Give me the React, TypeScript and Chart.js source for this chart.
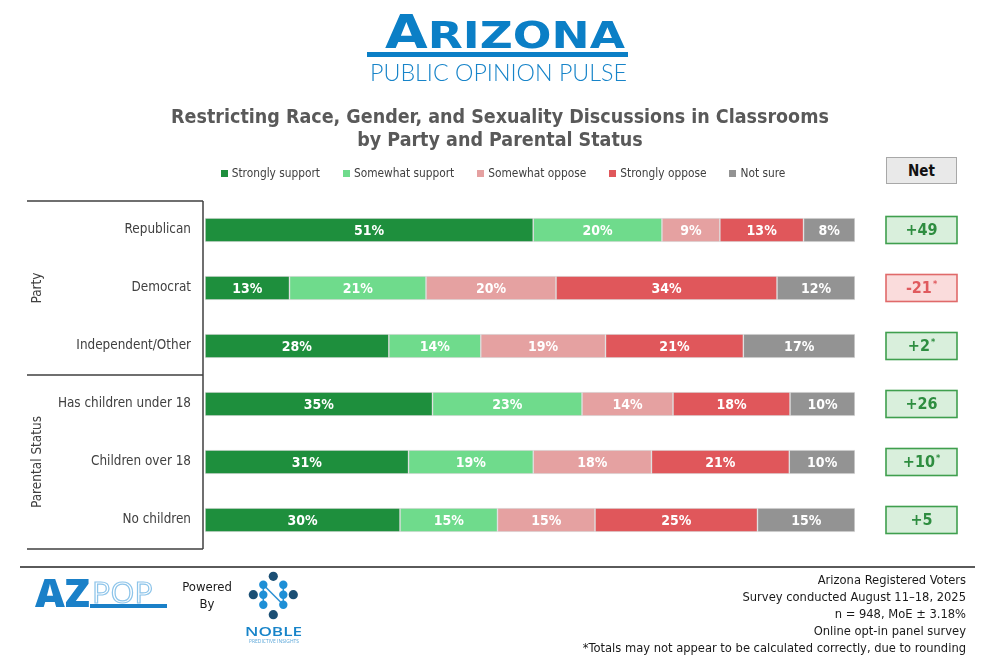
import React, { useEffect, useRef } from "react";
import { Chart, registerables } from "chart.js";

Chart.register(...registerables);

const categories = [
  "Republican",
  "Democrat",
  "Independent/Other",
  "Has children under 18",
  "Children over 18",
  "No children",
];
const seriesNames = ["Strongly support", "Somewhat support", "Somewhat oppose", "Strongly oppose", "Not sure"];
const stronglySupport = [51, 13, 28, 35, 31, 30];
const somewhatSupport = [20, 21, 14, 23, 19, 15];
const somewhatOppose = [9, 20, 19, 14, 18, 15];
const stronglyOppose = [13, 34, 21, 18, 21, 25];
const notSure = [8, 12, 17, 10, 10, 15];
const netValues = [49, -21, 2, 26, 10, 5];
const netRoundingNote = [false, true, true, false, true, false];
const groupLabels = ["Party", "Parental Status"];
const groupStarts = [0, 3];
const groupEnds = [2, 5];
const footerLines = [
  "Arizona Registered Voters",
  "Survey conducted August 11\u201318, 2025",
  "n = 948, MoE \u00b1 3.18%",
  "Online opt-in panel survey",
  "*Totals may not appear to be calculated correctly, due to rounding",
];

const seriesColors = ["#1e8f3d", "#6fdb8c", "#e5a1a1", "#e0575b", "#939393"];
const FONT = "'DejaVu Sans Condensed', Tahoma, 'Liberation Sans', sans-serif";

export default function App() {
  const ref = useRef<HTMLCanvasElement>(null);

  useEffect(() => {
    document.body.style.margin = "0";
    const series = [stronglySupport, somewhatSupport, somewhatOppose, stronglyOppose, notSure];
    const rowSums = categories.map((_, i) => series.reduce((s, arr) => s + arr[i], 0));

    const overlay = {
      id: "overlay",
      afterDatasetsDraw(chart: any) {
        const ctx = chart.ctx;
        ctx.save();
        ctx.fillStyle = "#ffffff";
        ctx.font = `bold 14px ${FONT}`;
        ctx.textAlign = "center";
        ctx.textBaseline = "middle";
        series.forEach((arr, d) => {
          const meta = chart.getDatasetMeta(d);
          meta.data.forEach((bar: any, i: number) => {
            const p = bar.getProps(["x", "y", "base"], true);
            ctx.fillText(arr[i] + "%", (p.x + p.base) / 2, p.y + 1);
          });
        });
        ctx.restore();
      },
      afterDraw(chart: any) {
        const ctx = chart.ctx;
        const area = chart.chartArea;
        const y = chart.scales.y;
        ctx.save();
        // bracket lines
        ctx.strokeStyle = "#404040";
        ctx.lineWidth = 1.5;
        const vx = area.left - 2;
        const lx = 27;
        const bounds: number[] = [area.top];
        for (let g = 0; g < groupLabels.length - 1; g++) {
          bounds.push((y.getPixelForValue(groupEnds[g]) + y.getPixelForValue(groupStarts[g + 1])) / 2);
        }
        bounds.push(area.bottom);
        ctx.beginPath();
        ctx.moveTo(vx, area.top);
        ctx.lineTo(vx, area.bottom);
        bounds.forEach((b) => {
          ctx.moveTo(lx, b);
          ctx.lineTo(vx, b);
        });
        ctx.stroke();
        // group labels
        ctx.fillStyle = "#404040";
        ctx.font = `13.5px ${FONT}`;
        ctx.textAlign = "center";
        ctx.textBaseline = "middle";
        groupLabels.forEach((lab, g) => {
          const cy = (bounds[g] + bounds[g + 1]) / 2;
          ctx.save();
          ctx.translate(37, cy);
          ctx.rotate(-Math.PI / 2);
          ctx.fillText(lab, 0, 0);
          ctx.restore();
        });
        // net boxes
        const bx = area.right + 31;
        const bw = 71;
        const bh = 27;
        netValues.forEach((v, i) => {
          const cy = y.getPixelForValue(i);
          const pos = v >= 0;
          ctx.fillStyle = pos ? "#d9efdc" : "#fadcdc";
          ctx.strokeStyle = pos ? "#3f9f4e" : "#e06a6a";
          ctx.lineWidth = 1.6;
          ctx.fillRect(bx, cy - bh / 2, bw, bh);
          ctx.strokeRect(bx, cy - bh / 2, bw, bh);
          const txt = pos ? "+" + v : String(v);
          ctx.font = `bold 16px ${FONT}`;
          const w1 = ctx.measureText(txt).width;
          ctx.font = `bold 9px ${FONT}`;
          const w2 = netRoundingNote[i] ? ctx.measureText("*").width + 1 : 0;
          const start = bx + bw / 2 - (w1 + w2) / 2;
          ctx.fillStyle = pos ? "#2e8d40" : "#e05a5e";
          ctx.textAlign = "left";
          ctx.textBaseline = "middle";
          ctx.font = `bold 16px ${FONT}`;
          ctx.fillText(txt, start, cy + 1);
          if (netRoundingNote[i]) {
            ctx.font = `bold 9px ${FONT}`;
            ctx.fillText("*", start + w1 + 1, cy - 3);
          }
        });
        ctx.restore();
      },
    };

    const chart = new Chart(ref.current!, {
      type: "bar",
      data: {
        labels: categories,
        datasets: series.map((arr, d) => ({
          label: seriesNames[d],
          data: arr.map((v, i) => (v / rowSums[i]) * 100),
          backgroundColor: seriesColors[d],
          borderColor: "#dedede",
          borderWidth: 1,
          borderSkipped: false,
          barThickness: 24,
        })),
      },
      options: {
        indexAxis: "y",
        responsive: false,
        animation: false,
        layout: { padding: { top: 201, bottom: 119, left: 0, right: 145 } },
        scales: {
          x: { stacked: true, min: 0, max: 100, display: false },
          y: {
            stacked: true,
            grid: { display: false, drawTicks: false },
            border: { display: false },
            ticks: { color: "#404040", font: { family: FONT, size: 13.4 }, padding: 14 },
            afterFit: (s: any) => {
              s.width = 205;
            },
          },
        },
        plugins: { legend: { display: false }, tooltip: { enabled: false } },
      },
      plugins: [overlay],
    } as any);
    return () => chart.destroy();
  }, []);

  const abs = (o: any): React.CSSProperties => ({ position: "absolute", ...o });

  return (
    <div style={{ position: "absolute", left: 0, top: 0, width: 1000, height: 668, background: "#fff", fontFamily: FONT, overflow: "hidden" }}>
      <canvas ref={ref} width={1000} height={668} style={abs({ left: 0, top: 0, display: "block" })} />

      {/* header logo */}
      <svg width={280} height={90} style={abs({ left: 360, top: 0 })}>
        <text x={25} y={48} textLength={240} lengthAdjust="spacingAndGlyphs" fill="#0b7fc6" fontWeight="bold" fontFamily="'DejaVu Sans', sans-serif">
          <tspan fontSize={46}>A</tspan>
          <tspan fontSize={38}>RIZONA</tspan>
        </text>
        <rect x={7} y={52} width={261} height={5} fill="#0b7fc6" />
        <text x={10} y={81} textLength={257} lengthAdjust="spacingAndGlyphs" fill="#1784c9" fontSize={23} fontWeight={300} fontFamily="Lato, 'Open Sans', sans-serif">
          PUBLIC OPINION PULSE
        </text>
      </svg>

      {/* title */}
      <div style={abs({ left: 0, top: 105, width: 1000, textAlign: "center", fontWeight: "bold", fontSize: 19.5, lineHeight: "23px", color: "#595959" })}>
        Restricting Race, Gender, and Sexuality Discussions in Classrooms
        <br />
        by Party and Parental Status
      </div>

      {/* legend */}
      <div style={abs({ left: 3, top: 165, width: 1000, display: "flex", justifyContent: "center", gap: 23, fontSize: 11.8, lineHeight: "16px", color: "#404040" })}>
        {seriesNames.map((n, i) => (
          <div key={n} style={{ display: "flex", alignItems: "center" }}>
            <span style={{ display: "inline-block", width: 7, height: 7, background: seriesColors[i], marginRight: 4 }} />
            {n}
          </div>
        ))}
      </div>

      {/* Net header */}
      <div style={abs({ left: 886, top: 157, width: 71, height: 27, boxSizing: "border-box", border: "1.5px solid #a8a8a8", background: "#e9e9e9", fontWeight: "bold", fontSize: 15, display: "flex", alignItems: "center", justifyContent: "center", color: "#111" })}>
        Net
      </div>

      {/* footer */}
      <div style={abs({ left: 20, top: 566, width: 955, height: 1.5, background: "#5a5a5a" })} />
      <svg width={160} height={45} style={abs({ left: 20, top: 570 })}>
        <text x={15} y={37} textLength={55} lengthAdjust="spacingAndGlyphs" fill="#1a80c8" fontSize={38} fontWeight={800} fontFamily="'Open Sans', sans-serif">
          AZ
        </text>
        <text x={72} y={33} textLength={61} lengthAdjust="spacingAndGlyphs" fill="#ffffff" stroke="#8ec5ea" strokeWidth={1.2} fontSize={30} fontWeight={400} fontFamily="'Open Sans', sans-serif">
          POP
        </text>
        <rect x={70} y={34} width={77} height={4} fill="#1a80c8" />
      </svg>
      <div style={abs({ left: 182, top: 578, width: 50, textAlign: "center", fontSize: 13, lineHeight: "17px", color: "#1a1a1a" })}>
        Powered
        <br />
        By
      </div>
      <svg width={70} height={80} style={abs({ left: 240, top: 568 })}>
        <g stroke="#2b8fd3" strokeWidth={1.5}>
          <line x1={23.3} y1={16.7} x2={23.3} y2={36.7} />
          <line x1={43.3} y1={16.7} x2={43.3} y2={36.7} />
          <line x1={23.3} y1={16.7} x2={43.3} y2={36.7} />
        </g>
        <g fill="#1b4f74">
          <circle cx={33.3} cy={8.3} r={4.6} />
          <circle cx={13.3} cy={26.7} r={4.6} />
          <circle cx={53.3} cy={26.7} r={4.6} />
          <circle cx={33.3} cy={46.7} r={4.6} />
        </g>
        <g fill="#1e8fd6">
          <circle cx={23.3} cy={16.7} r={4.2} />
          <circle cx={43.3} cy={16.7} r={4.2} />
          <circle cx={23.3} cy={26.7} r={4.2} />
          <circle cx={43.3} cy={26.7} r={4.2} />
          <circle cx={23.3} cy={36.7} r={4.2} />
          <circle cx={43.3} cy={36.7} r={4.2} />
        </g>
        <text x={5} y={68} textLength={57} lengthAdjust="spacingAndGlyphs" fill="#1784c9" fontSize={12} fontWeight={600} fontFamily="'Open Sans', sans-serif">
          NOBLE
        </text>
        <text x={9} y={75} textLength={50} lengthAdjust="spacingAndGlyphs" fill="#5aa6d8" fontSize={4.5} fontFamily="'Open Sans', sans-serif">
          PREDICTIVE INSIGHTS
        </text>
      </svg>
      <div style={abs({ right: 34, top: 571, textAlign: "right", fontSize: 12.8, lineHeight: "17px", color: "#1a1a1a", whiteSpace: "nowrap" })}>
        {footerLines.map((l) => (
          <div key={l}>{l}</div>
        ))}
      </div>
    </div>
  );
}
